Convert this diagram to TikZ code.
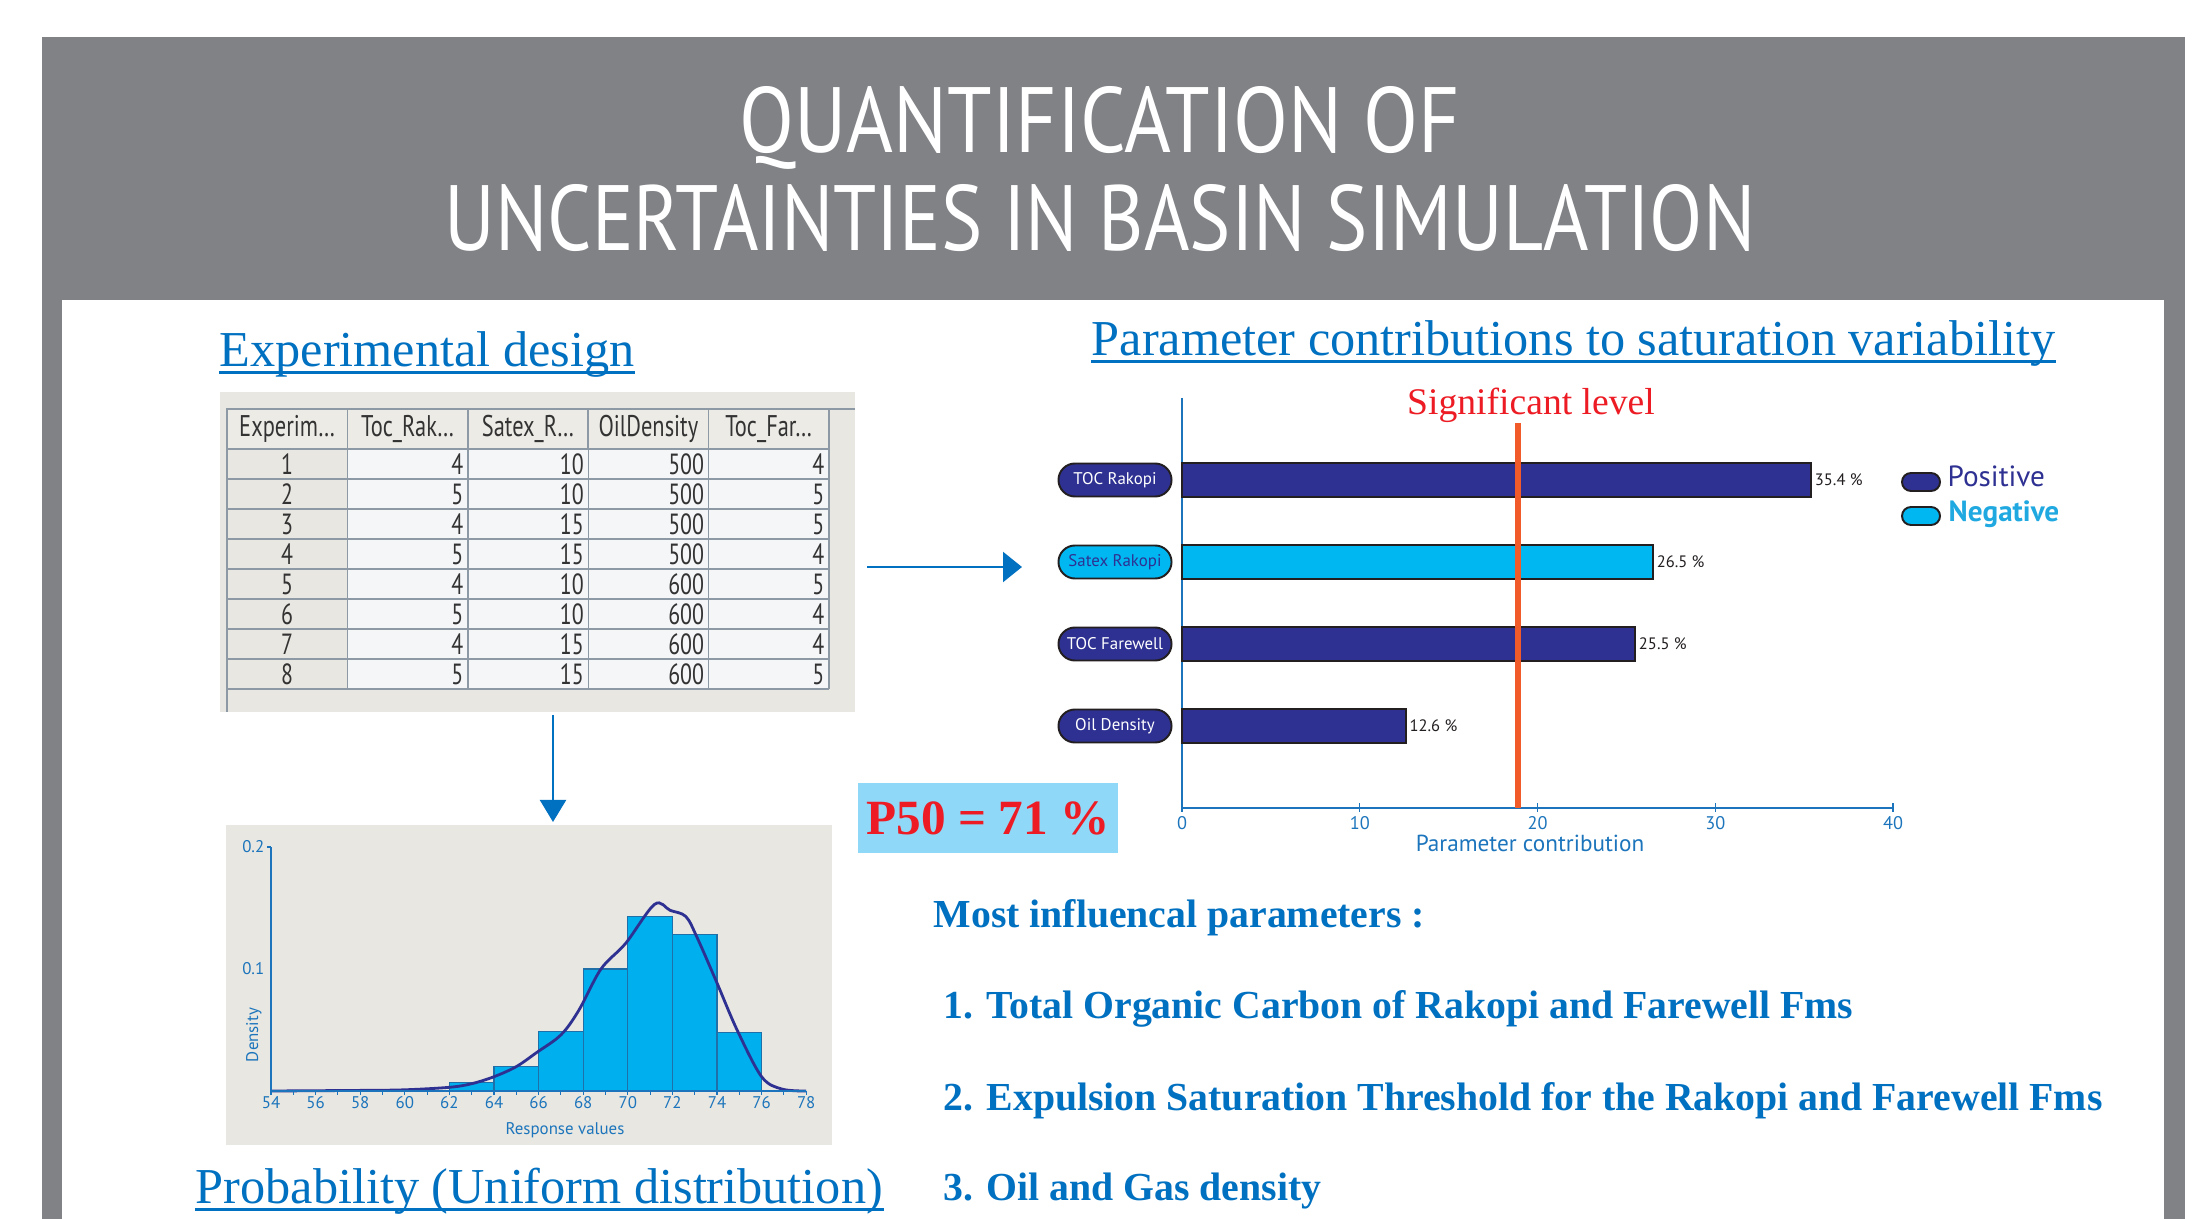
\documentclass[tikz,border=0pt]{standalone}
\usepackage{fontspec}
\usepackage{graphicx}
\setmainfont{Liberation Serif}
\setsansfont{PT Sans}
\newfontfamily\titlefont{PT Sans}
\newfontfamily\gridfont{PT Sans}[FakeStretch=0.75]
\usetikzlibrary{arrows.meta,calc,positioning}

\definecolor{bannergray}{HTML}{818286}
\definecolor{headblue}{HTML}{0070C0}
\definecolor{navy}{HTML}{2E3192}
\definecolor{cyanbar}{HTML}{00B7F1}
\definecolor{negblue}{HTML}{20A9E1}
\definecolor{paper}{HTML}{E9E7E1}
\definecolor{hdrfill}{HTML}{ECEBE6}
\definecolor{cellwhite}{HTML}{F5F6F8}
\definecolor{gridline}{HTML}{8D99A5}
\definecolor{axisblue}{HTML}{1C75BC}
\definecolor{barline}{HTML}{231F20}
\definecolor{histbar}{HTML}{00B0EE}
\definecolor{histedge}{HTML}{1F6FA8}
\definecolor{sigred}{HTML}{ED1C24}
\definecolor{sigline}{HTML}{F15A29}
\definecolor{p50blue}{HTML}{8FD8F8}

\begin{document}
\begin{tikzpicture}[x=0.01cm, y=-0.01cm,
  heading/.style={inner sep=0pt, anchor=base west, text=headblue, font=\fontsize{14.3}{16}\selectfont},
  listitem/.style={inner sep=0pt, anchor=base west, text=headblue, font=\fontsize{11.3}{13}\selectfont\bfseries},
  hdrcell/.style={draw=gridline, fill=hdrfill, inner sep=0pt, minimum width=1.2cm, minimum height=0.4cm, font=\gridfont\fontsize{8.5}{9}\selectfont, text=black!80},
  numcell/.style={inner sep=0pt, font=\gridfont\fontsize{8.3}{9}\selectfont, text=black!80},
  pill/.style={draw=barline, line width=0.55pt, rounded corners=0.165cm, minimum width=1.13cm, minimum height=0.33cm, inner sep=0pt, font=\sffamily\fontsize{4.8}{5}\selectfont},
  valuelabel/.style={inner sep=0pt, anchor=west, text=barline, font=\sffamily\fontsize{4.7}{5}\selectfont},
  axislabel/.style={inner sep=0pt, text=axisblue, font=\sffamily\fontsize{4.8}{5}\selectfont},
  blueline/.style={headblue, line width=0.77pt},
]
\fill[white] (0,0) rectangle (2212,1219);
\useasboundingbox (0,0) rectangle (2212,1219);

% banner and white panel
\fill[bannergray] (42,37) rectangle (2185,1219);
\fill[white] (62,300) rectangle (2164,1219);
\node[inner sep=0pt, anchor=base, text=white] (title1) at (1100,153) {\resizebox{7.2cm}{0.66cm}{\titlefont QUANTIFICATION OF}};
\node[inner sep=0pt, anchor=base, text=white] (title2) at (1100,251) {\resizebox{13.1cm}{0.66cm}{\titlefont UNCERTAINTIES IN BASIN SIMULATION}};

% headings
\node[heading] (expdesign) at (219,367) {Experimental design};
\draw[headblue, line width=0.85pt] ($(expdesign.base west)+(0,6)$) -- ($(expdesign.base east)+(0,6)$);
\node[heading] (contrib) at (1091,356) {Parameter contributions to saturation variability};
\draw[headblue, line width=0.85pt] ($(contrib.base west)+(0,6)$) -- ($(contrib.base east)+(0,6)$);
\node[heading] (proba) at (195,1203) {Probability (Uniform distribution)};
\draw[headblue, line width=0.85pt] ($(proba.base west)+(0,6)$) -- ($(proba.base east)+(0,6)$);

% experimental design table
\fill[paper] (220,392) rectangle (855,712);
\fill[cellwhite] (347.4,449) rectangle (829,689);
\draw[gridline, line width=0.4pt] (855,409) -- (227,409) -- (227,712);
\foreach \k in {0,...,8}
  \draw[gridline, line width=0.4pt] (227,449+30*\k) -- (829,449+30*\k);
\foreach \x in {227,347.4,467.8,588.2,708.6,829}
  \draw[gridline, line width=0.4pt] (\x,449) -- (\x,689);
\foreach \h [count=\c from 0] in {Experim\ldots, Toc\_Rak\ldots, Satex\_R\ldots, OilDensity, Toc\_Far\ldots}
  \node[hdrcell] (hdr\c) at (287.2+120.4*\c,429) {\h};
\foreach \a/\b/\c/\d/\e [count=\r from 0] in {1/4/10/500/4, 2/5/10/500/5, 3/4/15/500/5, 4/5/15/500/4,
    5/4/10/600/5, 6/5/10/600/4, 7/4/15/600/4, 8/5/15/600/5} {
  \pgfmathsetmacro\yc{464+30*\r}
  \node[numcell] (num-\r-1) at (287.2,\yc) {\a};
  \node[numcell, anchor=east] (num-\r-2) at (464,\yc) {\b};
  \node[numcell, anchor=east] (num-\r-3) at (584.4,\yc) {\c};
  \node[numcell, anchor=east] (num-\r-4) at (704.8,\yc) {\d};
  \node[numcell, anchor=east] (num-\r-5) at (825,\yc) {\e};
}

% arrows
\coordinate (tabout) at (867,567);
\coordinate (chartin) at (1022,567);
\draw[blueline, -{Triangle[length=5.4pt, width=8.5pt]}] (tabout) -- (chartin);
\coordinate (tabbottom) at (553,715);
\coordinate (histtop) at (553,822);
\draw[blueline, -{Triangle[length=6.3pt, width=7.4pt]}] (tabbottom) -- (histtop);

% histogram
\fill[paper] (226,825) rectangle (832,1145);
\foreach \v/\d in {62/0.0066, 64/0.02, 66/0.0487, 68/0.1, 70/0.1434, 72/0.128, 74/0.048} {
  \pgfmathsetmacro\hx{271+(\v-54)*22.3}
  \filldraw[fill=histbar, draw=histedge, line width=0.3pt] (\hx,1091) rectangle (\hx+44.6,1091-1220*\d);
}
\draw[navy, line width=0.8pt] plot[smooth, tension=0.55] coordinates {(271,1091) (360.2,1090.4) (404.8,1089.8)
  (449.4,1087.3) (471.7,1083.7) (494,1076.7) (516.3,1066.6) (536.4,1052.7) (560.9,1034.9) (578.7,1010.5)
  (601,969) (625.6,943.4) (654.6,904.3) (670.2,910.4) (685.8,916.5) (697,937.3) (717,983) (737.1,1030)
  (761.6,1076.7) (781.7,1089) (806,1091)};
\draw[axisblue, line width=0.6pt] (271,847) -- (271,1091) -- (806,1091);
\draw[axisblue, line width=0.4pt] (267,847) -- (271,847);
\foreach \v in {54,...,78}
  \draw[axisblue, line width=0.3pt] ({271+(\v-54)*22.3},1091) -- ({271+(\v-54)*22.3},1095);
\foreach \v in {54,56,...,78}
  \node[axislabel, anchor=north] (hx\v) at ({271+(\v-54)*22.3},1096) {\v};
\node[axislabel, anchor=east] (hy2) at (265,847) {0.2};
\node[axislabel, anchor=east] (hy1) at (265,969) {0.1};
\node[axislabel, rotate=90] (density) at (254,1035) {Density};
\node[axislabel] (response) at (565,1130) {Response values};

% P50 box
\node[fill=p50blue, minimum width=2.6cm, minimum height=0.7cm, inner sep=0pt, text=sigred,
  font=\fontsize{14}{16}\selectfont\bfseries] (p50) at (988,818) {P50 = 71 \%};

% contribution chart
\coordinate (origin) at (1182,808);
\draw[axisblue, line width=0.4pt] (1182,398) -- (origin);
\foreach \pid/\txt/\val/\fcol/\tcol [count=\i from 0] in {tocrak/TOC Rakopi/35.4/navy/white,
    satex/Satex Rakopi/26.5/cyanbar/navy, tocfar/TOC Farewell/25.5/navy/white, oildens/Oil Density/12.6/navy/white} {
  \pgfmathsetmacro\yb{480+82*\i}
  \pgfmathsetmacro\xe{1182+17.775*\val}
  \node[pill, fill=\fcol, text=\tcol] (\pid) at (1115,\yb) {\txt};
  \filldraw[fill=\fcol, draw=barline, line width=0.5pt] (1182,\yb-17) rectangle (\xe,\yb+17);
  \node[valuelabel] (\pid-val) at (\xe+3,\yb) {\val\ \%};
}
\draw[axisblue, line width=0.6pt] (origin) -- (1893,808);
\foreach \t [count=\k from 0] in {0,10,20,30,40} {
  \draw[axisblue, line width=0.4pt] (1182+177.75*\k,803) -- (1182+177.75*\k,812);
  \node[axislabel, font=\sffamily\fontsize{5.2}{6}\selectfont] (cx\k) at (1182+177.75*\k,823) {\t};
}
\node[axislabel, font=\sffamily\fontsize{6.6}{7}\selectfont] (paramlabel) at (1530,843) {Parameter contribution};
\draw[sigline, line width=1.7pt] (1518,423) -- (1518,808);
\node[inner sep=0pt, anchor=base, text=sigred, font=\fontsize{10.7}{12}\selectfont] (siglevel) at (1531,415) {Significant level};

% legend
\node[pill, fill=navy, minimum width=0.38cm, minimum height=0.18cm, rounded corners=0.09cm] (legpos) at (1921,482) {};
\node[inner sep=0pt, anchor=base west, text=navy, font=\sffamily\fontsize{8.3}{9}\selectfont] (legpostxt) at (1947,487) {Positive};
\node[pill, fill=cyanbar, minimum width=0.38cm, minimum height=0.18cm, rounded corners=0.09cm] (legneg) at (1921,516) {};
\node[inner sep=0pt, anchor=base west, text=negblue, font=\sffamily\bfseries\fontsize{8.3}{9}\selectfont] (legnegtxt) at (1948,522) {Negative};

% most influencal parameters
\node[listitem] (influ) at (933,927) {Most influencal parameters :};
\node[listitem] (item1) at (943,1018) {1. Total Organic Carbon of Rakopi and Farewell Fms};
\node[listitem] (item2) at (943,1110) {2. Expulsion Saturation Threshold for the Rakopi and Farewell Fms};
\node[listitem] (item3) at (943,1200) {3. Oil and Gas density};
\end{tikzpicture}
\end{document}
